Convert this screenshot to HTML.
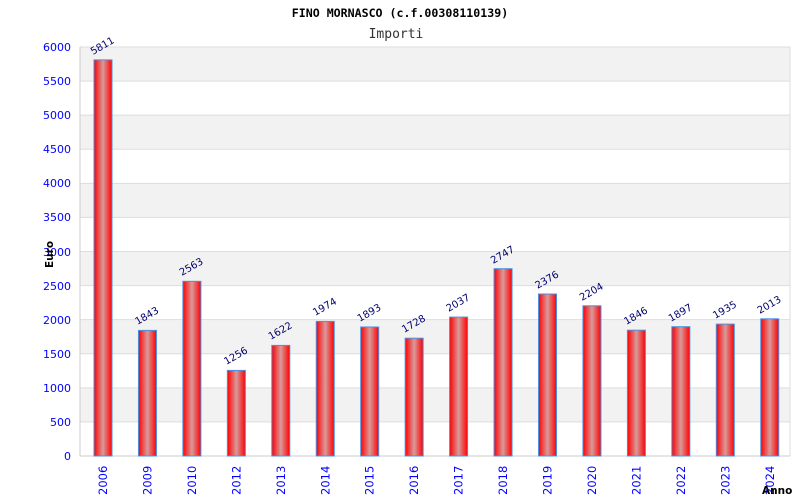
<!DOCTYPE html>
<html><head><meta charset="utf-8"><style>body{margin:0;background:#fff}svg{display:block}</style></head><body>
<svg width="800" height="500" xmlns="http://www.w3.org/2000/svg" font-family="'DejaVu Sans',sans-serif">
<defs><linearGradient id="g" x1="0" x2="1" y1="0" y2="0"><stop offset="0" stop-color="#f00"/><stop offset="0.5" stop-color="#d99a9a"/><stop offset="1" stop-color="#f00"/></linearGradient></defs>
<text x="400" y="17" text-anchor="middle" font-family="'DejaVu Sans Mono',monospace" font-size="11.6" font-weight="bold">FINO MORNASCO (c.f.00308110139)</text>
<text x="396" y="38" text-anchor="middle" font-family="'DejaVu Sans Mono',monospace" font-size="13" fill="#333">Importi</text>
<g fill="#f2f2f2">
<rect x="80" y="47" width="710" height="34.08"/>
<rect x="80" y="115.17" width="710" height="34.08"/>
<rect x="80" y="183.33" width="710" height="34.08"/>
<rect x="80" y="251.5" width="710" height="34.08"/>
<rect x="80" y="319.67" width="710" height="34.08"/>
<rect x="80" y="387.83" width="710" height="34.08"/>
</g>
<g stroke="#ddd" stroke-width="1">
<line x1="80" x2="790" y1="47" y2="47"/><line x1="80" x2="790" y1="81.08" y2="81.08"/><line x1="80" x2="790" y1="115.17" y2="115.17"/><line x1="80" x2="790" y1="149.25" y2="149.25"/><line x1="80" x2="790" y1="183.33" y2="183.33"/><line x1="80" x2="790" y1="217.42" y2="217.42"/><line x1="80" x2="790" y1="251.5" y2="251.5"/><line x1="80" x2="790" y1="285.58" y2="285.58"/><line x1="80" x2="790" y1="319.67" y2="319.67"/><line x1="80" x2="790" y1="353.75" y2="353.75"/><line x1="80" x2="790" y1="387.83" y2="387.83"/><line x1="80" x2="790" y1="421.92" y2="421.92"/>
<line x1="790" x2="790" y1="47" y2="456"/>
</g>
<g stroke="#ccc"><line x1="80" x2="80" y1="47" y2="456"/><line x1="80" x2="790" y1="456" y2="456"/></g>
<g font-size="11" fill="#00f" text-anchor="end">
<text x="71" y="51">6000</text><text x="71" y="85">5500</text><text x="71" y="119">5000</text><text x="71" y="153">4500</text><text x="71" y="187">4000</text><text x="71" y="221">3500</text><text x="71" y="256">3000</text><text x="71" y="290">2500</text><text x="71" y="324">2000</text><text x="71" y="358">1500</text><text x="71" y="392">1000</text><text x="71" y="426">500</text><text x="71" y="460">0</text>
</g>
<g fill="url(#g)" stroke="#4a90e2" stroke-width="1">
<rect x="94" y="59.9" width="18" height="396.1"/>
<rect x="138.45" y="330.4" width="18" height="125.6"/>
<rect x="182.9" y="281.3" width="18" height="174.7"/>
<rect x="227.35" y="370.4" width="18" height="85.6"/>
<rect x="271.8" y="345.4" width="18" height="110.6"/>
<rect x="316.25" y="321.4" width="18" height="134.6"/>
<rect x="360.7" y="327" width="18" height="129"/>
<rect x="405.15" y="338.2" width="18" height="117.8"/>
<rect x="449.6" y="317.1" width="18" height="138.9"/>
<rect x="494.05" y="268.7" width="18" height="187.3"/>
<rect x="538.5" y="294" width="18" height="162"/>
<rect x="582.95" y="305.8" width="18" height="150.2"/>
<rect x="627.4" y="330.2" width="18" height="125.8"/>
<rect x="671.85" y="326.7" width="18" height="129.3"/>
<rect x="716.3" y="324.1" width="18" height="131.9"/>
<rect x="760.75" y="318.8" width="18" height="137.2"/>
</g>
<g font-size="10" fill="#00006e">
<text transform="translate(93,55) rotate(-30)">5811</text>
<text transform="translate(137.5,325) rotate(-30)">1843</text>
<text transform="translate(181.9,276) rotate(-30)">2563</text>
<text transform="translate(226.4,365) rotate(-30)">1256</text>
<text transform="translate(270.8,340) rotate(-30)">1622</text>
<text transform="translate(315.3,316) rotate(-30)">1974</text>
<text transform="translate(359.7,322) rotate(-30)">1893</text>
<text transform="translate(404.2,333) rotate(-30)">1728</text>
<text transform="translate(448.6,312) rotate(-30)">2037</text>
<text transform="translate(493.1,264) rotate(-30)">2747</text>
<text transform="translate(537.5,289) rotate(-30)">2376</text>
<text transform="translate(582,301) rotate(-30)">2204</text>
<text transform="translate(626.4,325) rotate(-30)">1846</text>
<text transform="translate(670.9,322) rotate(-30)">1897</text>
<text transform="translate(715.3,319) rotate(-30)">1935</text>
<text transform="translate(759.8,314) rotate(-30)">2013</text>
</g>
<g font-size="11.5" fill="#00f">
<text transform="translate(107,495) rotate(-90)">2006</text>
<text transform="translate(151.5,495) rotate(-90)">2009</text>
<text transform="translate(195.9,495) rotate(-90)">2010</text>
<text transform="translate(240.4,495) rotate(-90)">2012</text>
<text transform="translate(284.8,495) rotate(-90)">2013</text>
<text transform="translate(329.3,495) rotate(-90)">2014</text>
<text transform="translate(373.7,495) rotate(-90)">2015</text>
<text transform="translate(418.2,495) rotate(-90)">2016</text>
<text transform="translate(462.6,495) rotate(-90)">2017</text>
<text transform="translate(507.1,495) rotate(-90)">2018</text>
<text transform="translate(551.5,495) rotate(-90)">2019</text>
<text transform="translate(596,495) rotate(-90)">2020</text>
<text transform="translate(640.4,495) rotate(-90)">2021</text>
<text transform="translate(684.9,495) rotate(-90)">2022</text>
<text transform="translate(729.3,495) rotate(-90)">2023</text>
<text transform="translate(773.8,495) rotate(-90)">2024</text>
</g>
<text transform="translate(53,268) rotate(-90)" font-size="10.5" font-weight="bold">Euro</text>
<text x="762" y="494" font-size="10.5" font-weight="bold">Anno</text>
</svg>
</body></html>
